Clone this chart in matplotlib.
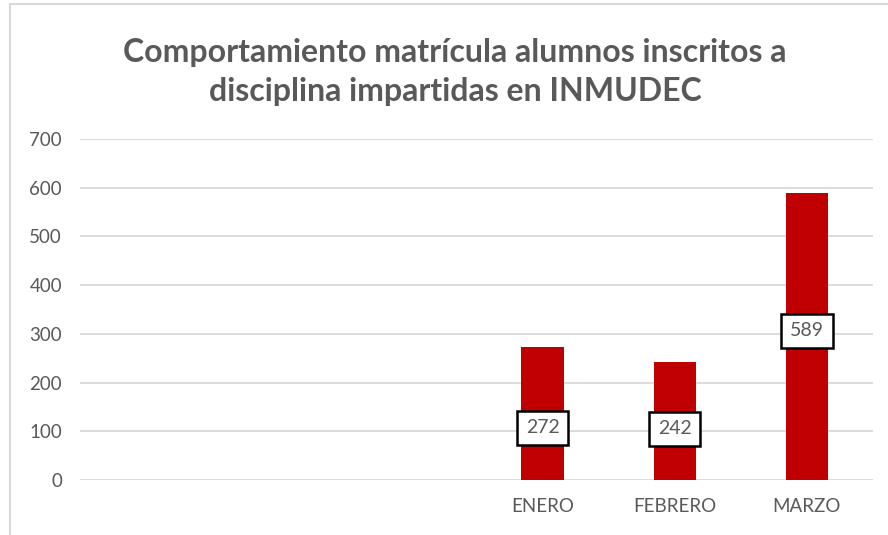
import matplotlib
matplotlib.use("Agg")
import matplotlib.pyplot as plt
from matplotlib.patches import Rectangle

categories = ["", "", "", "ENERO", "FEBRERO", "MARZO"]
values = [0, 0, 0, 272, 242, 589]
label_values = ["", "", "", "272", "242", "589"]
label_y = [0, 0, 0, 107, 105, 306]  # manually placed label positions (data units)
yticks = [0, 100, 200, 300, 400, 500, 600, 700]

plt.rcParams['font.family'] = ['Lato', 'DejaVu Sans']
gray = '#595959'

fig = plt.figure(figsize=(8.88, 5.35), dpi=100)
W, H = 888, 535
fig.patches.append(Rectangle((10 / W, -0.1), 1.2, (1 - 4 / H) + 0.1, transform=fig.transFigure,
                             fill=False, edgecolor='#d9d9d9', linewidth=1.5))

ax = fig.add_axes([80 / W, 1 - 480 / H, (873 - 80) / W, (480 - 139) / H])
x = list(range(len(categories)))
ax.bar(x, values, width=0.32, color='#c00000', zorder=3)
ax.set_ylim(0, 700)
ax.set_xlim(-0.5, len(categories) - 0.5)
ax.set_yticks(yticks)
ax.set_yticklabels([str(t) for t in yticks])
ax.set_xticks(x)
ax.set_xticklabels(categories)
ax.tick_params(axis='both', length=0, labelcolor=gray, labelsize=13.5)
ax.tick_params(axis='y', pad=13)
ax.tick_params(axis='x', pad=13)
ax.grid(axis='y', color='#d9d9d9', linewidth=1.3, zorder=0)
for s in ax.spines.values():
    s.set_visible(False)

for xi, lab, ly in zip(x, label_values, label_y):
    if lab:
        ax.text(xi, ly, lab, ha='center', va='center', fontsize=14, color=gray, zorder=5,
                bbox=dict(boxstyle='square,pad=0.45', facecolor='white', edgecolor='black', linewidth=1.8))

fig.text(455 / W, 1 - 72 / H,
         "Comportamiento matrícula alumnos inscritos a\ndisciplina impartidas en INMUDEC",
         ha='center', va='center', fontsize=23, fontweight='bold', color=gray, linespacing=1.45)

fig.savefig('out.png', dpi=100)
